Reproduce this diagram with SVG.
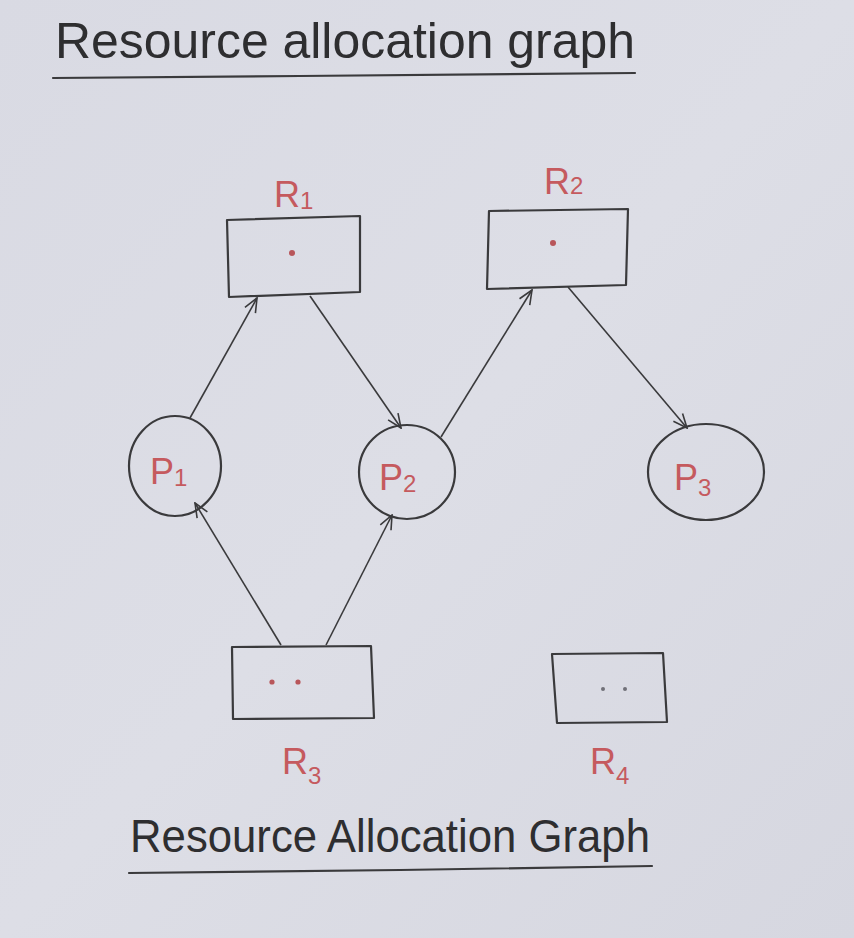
<svg xmlns="http://www.w3.org/2000/svg" width="854" height="938" viewBox="0 0 854 938">
<defs>
<linearGradient id="bg" x1="0" y1="0" x2="1" y2="1">
<stop offset="0" stop-color="#d9dae3"/>
<stop offset="0.5" stop-color="#dddee6"/>
<stop offset="1" stop-color="#d6d7e0"/>
</linearGradient>
<marker id="arr" viewBox="0 0 16 16" refX="15" refY="8" markerWidth="16" markerHeight="16" markerUnits="userSpaceOnUse" orient="auto">
<path d="M1,2 L15,8 L1,14" fill="none" stroke="#3a3a3c" stroke-width="1.6"/>
</marker>
</defs>
<style>
.ink{fill:none;stroke:#3a3a3c;stroke-width:2.2;stroke-linecap:round;stroke-linejoin:round}
.edge{fill:none;stroke:#3a3a3c;stroke-width:1.6;marker-end:url(#arr)}
.title{font-family:"Liberation Sans","DejaVu Sans",sans-serif;fill:#2e2e30}
.lbl{font-family:"Liberation Sans","DejaVu Sans",sans-serif;fill:#c55a5e;font-size:36px}
.dot{fill:#b8565a}
.gdot{fill:#707078}
</style>
<rect width="854" height="938" fill="url(#bg)"/>

<g id="title-top">
<text class="title" x="55" y="58" font-size="50" textLength="580" lengthAdjust="spacingAndGlyphs">Resource allocation graph</text>
<path class="ink" d="M53,78 L300,76 L635,73"/>
</g>

<g id="connectors">
<line class="edge" x1="190" y1="418" x2="257" y2="298"/>
<line class="edge" x1="310" y1="296" x2="401" y2="428"/>
<line class="edge" x1="441" y1="437" x2="532" y2="290"/>
<line class="edge" x1="568" y1="287" x2="687" y2="428"/>
<line class="edge" x1="281" y1="645" x2="195" y2="503"/>
<line class="edge" x1="326" y1="645" x2="392" y2="515"/>
</g>

<g id="R1">
<path class="ink" d="M227,220 L360,216 L360,292 L229,297 Z"/>
<circle class="dot" cx="292" cy="253" r="3"/>
<text class="lbl" x="274" y="207">R<tspan font-size="24" dy="2">1</tspan></text>
</g>

<g id="R2">
<path class="ink" d="M489,211 L628,209 L626,285 L487,289 Z"/>
<circle class="dot" cx="553" cy="243" r="3"/>
<text class="lbl" x="544" y="194">R<tspan font-size="24" dy="0">2</tspan></text>
</g>

<g id="P1">
<ellipse class="ink" cx="175" cy="466" rx="46" ry="50"/>
<text class="lbl" x="150" y="484">P<tspan font-size="24" dy="2">1</tspan></text>
</g>

<g id="P2">
<ellipse class="ink" cx="407" cy="472" rx="48" ry="47"/>
<text class="lbl" x="379" y="490">P<tspan font-size="24" dy="2">2</tspan></text>
</g>

<g id="P3">
<ellipse class="ink" cx="706" cy="472" rx="58" ry="48"/>
<text class="lbl" x="674" y="490">P<tspan font-size="24" dy="6">3</tspan></text>
</g>

<g id="R3">
<path class="ink" d="M232,647 L371,646 L374,718 L233,719 Z"/>
<circle class="dot" cx="272" cy="682" r="2.6"/>
<circle class="dot" cx="298" cy="682" r="2.6"/>
<text class="lbl" x="282" y="774">R<tspan font-size="24" dy="10">3</tspan></text>
</g>

<g id="R4">
<path class="ink" d="M552,654 L663,653 L667,722 L557,723 Z"/>
<circle class="gdot" cx="603" cy="689" r="2"/>
<circle class="gdot" cx="625" cy="689" r="2"/>
<text class="lbl" x="590" y="774">R<tspan font-size="24" dy="10">4</tspan></text>
</g>

<g id="title-bottom">
<text class="title" x="130" y="852" font-size="46" textLength="520" lengthAdjust="spacingAndGlyphs">Resource Allocation Graph</text>
<path class="ink" d="M129,873 L400,870 L652,866"/>
</g>
</svg>
